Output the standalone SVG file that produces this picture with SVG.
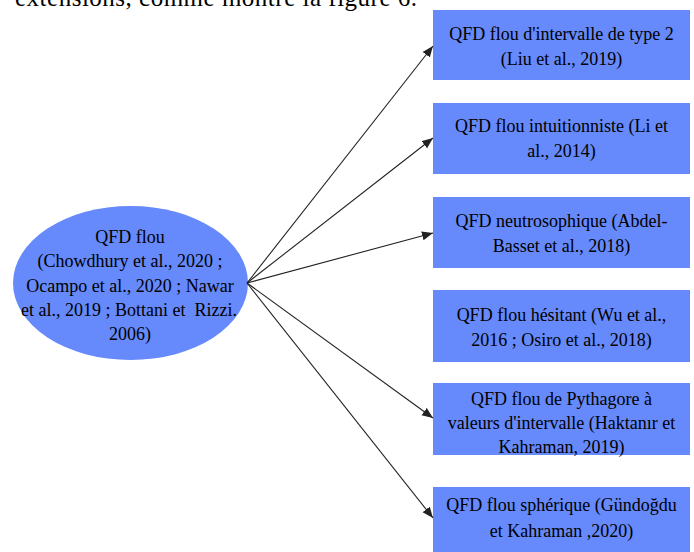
<svg xmlns="http://www.w3.org/2000/svg" width="694" height="552" viewBox="0 0 694 552">
<style>
.t{font-family:"Liberation Serif","Times New Roman",serif;fill:#000;}
.n{font-size:18px;text-anchor:middle;}
.box{fill:#6689fb;}
.conn line{stroke:#222;stroke-width:1.1;marker-end:url(#ah);}
</style>
<defs>
<marker id="ah" markerUnits="userSpaceOnUse" markerWidth="12" markerHeight="10" refX="11" refY="4.5" orient="auto">
<path d="M0,0 L11,4.5 L0,9 Z" fill="#222"/>
</marker>
</defs>
<rect width="694" height="552" fill="#fff"/>
<text class="t" x="15" y="6" font-size="25" textLength="402" lengthAdjust="spacing">extensions, comme montre la figure 6.</text>
<g id="center">
<ellipse cx="130.5" cy="283" rx="117.5" ry="77" class="box"/>
<text class="t n"><tspan x="130" y="243">QFD flou</tspan><tspan x="130" y="267">(Chowdhury et al., 2020 ;</tspan><tspan x="130" y="292">Ocampo et al., 2020 ; Nawar</tspan><tspan x="129" y="316">et al., 2019 ; Bottani et &#160;Rizzi.</tspan><tspan x="130" y="340">2006)</tspan></text>
</g>
<g id="n1">
<rect x="433" y="10" width="257" height="70" class="box"/>
<text class="t n"><tspan x="561.5" y="40">QFD flou d'intervalle de type 2</tspan><tspan x="561.5" y="65">(Liu et al., 2019)</tspan></text>
</g>
<g id="n2">
<rect x="433" y="103" width="257" height="71" class="box"/>
<text class="t n"><tspan x="561.5" y="132">QFD flou intuitionniste (Li et</tspan><tspan x="561.5" y="157">al., 2014)</tspan></text>
</g>
<g id="n3">
<rect x="433" y="197" width="257" height="71" class="box"/>
<text class="t n"><tspan x="561.5" y="227">QFD neutrosophique (Abdel-</tspan><tspan x="561.5" y="252">Basset et al., 2018)</tspan></text>
</g>
<g id="n4">
<rect x="433" y="290" width="257" height="72" class="box"/>
<text class="t n"><tspan x="561.5" y="321">QFD flou hésitant (Wu et al.,</tspan><tspan x="561.5" y="346">2016 ; Osiro et al., 2018)</tspan></text>
</g>
<g id="n5">
<rect x="433" y="383" width="257" height="72" class="box"/>
<text class="t n"><tspan x="561.5" y="405">QFD flou de Pythagore à</tspan><tspan x="561.5" y="429">valeurs d'intervalle (Haktanır et</tspan><tspan x="561.5" y="453">Kahraman, 2019)</tspan></text>
</g>
<g id="n6">
<rect x="433" y="487" width="257" height="65" class="box"/>
<text class="t n"><tspan x="561.5" y="511">QFD flou sphérique (Gündoğdu</tspan><tspan x="561.5" y="537">et Kahraman ,2020)</tspan></text>
</g>
<g id="connectors" class="conn">
<line x1="247" y1="283" x2="433" y2="46"/>
<line x1="247" y1="283" x2="433" y2="138"/>
<line x1="247" y1="283" x2="433" y2="233"/>
<line x1="247" y1="283" x2="433" y2="418"/>
<line x1="247" y1="283" x2="433" y2="518"/>
</g>
</svg>
